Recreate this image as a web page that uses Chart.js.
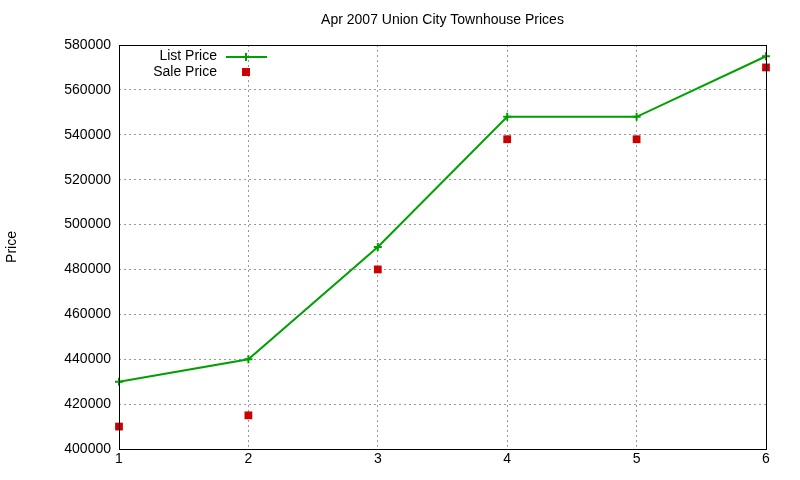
<!DOCTYPE html>
<html><head><meta charset="utf-8">
<script src="https://cdn.jsdelivr.net/npm/chart.js@4"></script>
<style>html,body{margin:0;padding:0;background:#fff}#w{width:800px;height:480px}</style>
</head><body><div id="w"><canvas id="c"></canvas></div>
<script>
const xs = [1, 2, 3, 4, 5, 6];
const listPrice = [430000, 440000, 490000, 548000, 548000, 575000];
const salePrice = [410000, 415000, 480000, 538000, 538000, 570000];
const FONT = "'Liberation Sans', Arial, sans-serif";

const frame = {
  id: 'frame',
  afterDraw(ch) {
    const a = ch.chartArea, g = ch.ctx;
    g.save();
    g.strokeStyle = '#000'; g.lineWidth = 1; g.setLineDash([]);
    g.strokeRect(a.left + 0.5, a.top + 0.5, a.right - a.left, a.bottom - a.top);
    g.font = '14px ' + FONT; g.fillStyle = '#000'; g.textAlign = 'center'; g.textBaseline = 'middle';
    g.fillText('Apr 2007 Union City Townhouse Prices', (a.left + a.right) / 2, 20);
    g.textAlign = 'right';
    g.fillText('List Price', 217, 56);
    g.fillText('Sale Price', 217, 72);
    g.strokeStyle = '#00a000'; g.lineWidth = 2;
    g.beginPath(); g.moveTo(226, 57); g.lineTo(267, 57); g.stroke();
    g.beginPath(); g.moveTo(246, 53); g.lineTo(246, 61); g.moveTo(242, 57); g.lineTo(250, 57); g.stroke();
    g.fillStyle = '#cc0000'; g.fillRect(242, 68, 8, 8);
    g.restore();
  }
};

new Chart(document.getElementById('c'), {
  type: 'scatter',
  data: {
    datasets: [
      { label: 'List Price', data: xs.map((x, i) => ({x, y: listPrice[i]})), showLine: true, clip: false,
        borderColor: '#00a000', backgroundColor: '#00a000', borderWidth: 2,
        pointStyle: 'cross', pointRadius: 4, pointBorderWidth: 2, tension: 0 },
      { label: 'Sale Price', data: xs.map((x, i) => ({x, y: salePrice[i]})), showLine: false, clip: false,
        borderColor: '#cc0000', backgroundColor: '#cc0000', borderWidth: 0,
        pointStyle: 'rect', pointRadius: 5.5 }
    ]
  },
  options: {
    responsive: true, maintainAspectRatio: false, animation: false,
    layout: { padding: { left: 0, right: 34, top: 45, bottom: 0 } },
    plugins: { legend: { display: false }, tooltip: { enabled: false }, title: { display: false } },
    scales: {
      x: { type: 'linear', min: 1, max: 6,
        afterFit(s) { s.height = 31; },
        ticks: { stepSize: 1, color: '#000', font: { family: FONT, size: 14 }, padding: 2 },
        grid: { color: '#999', drawTicks: false }, border: { display: false, dash: [2, 3] } },
      y: { min: 400000, max: 580000,
        afterFit(s) { s.width = 119; },
        ticks: { stepSize: 20000, color: '#000', font: { family: FONT, size: 14 }, padding: 8,
          callback: v => String(v) },
        grid: { color: '#999', drawTicks: false }, border: { display: false, dash: [2, 3] },
        title: { display: true, text: 'Price', color: '#000', font: { family: FONT, size: 14 }, padding: { bottom: 30 } } }
    }
  },
  plugins: [frame]
});
</script></body></html>
